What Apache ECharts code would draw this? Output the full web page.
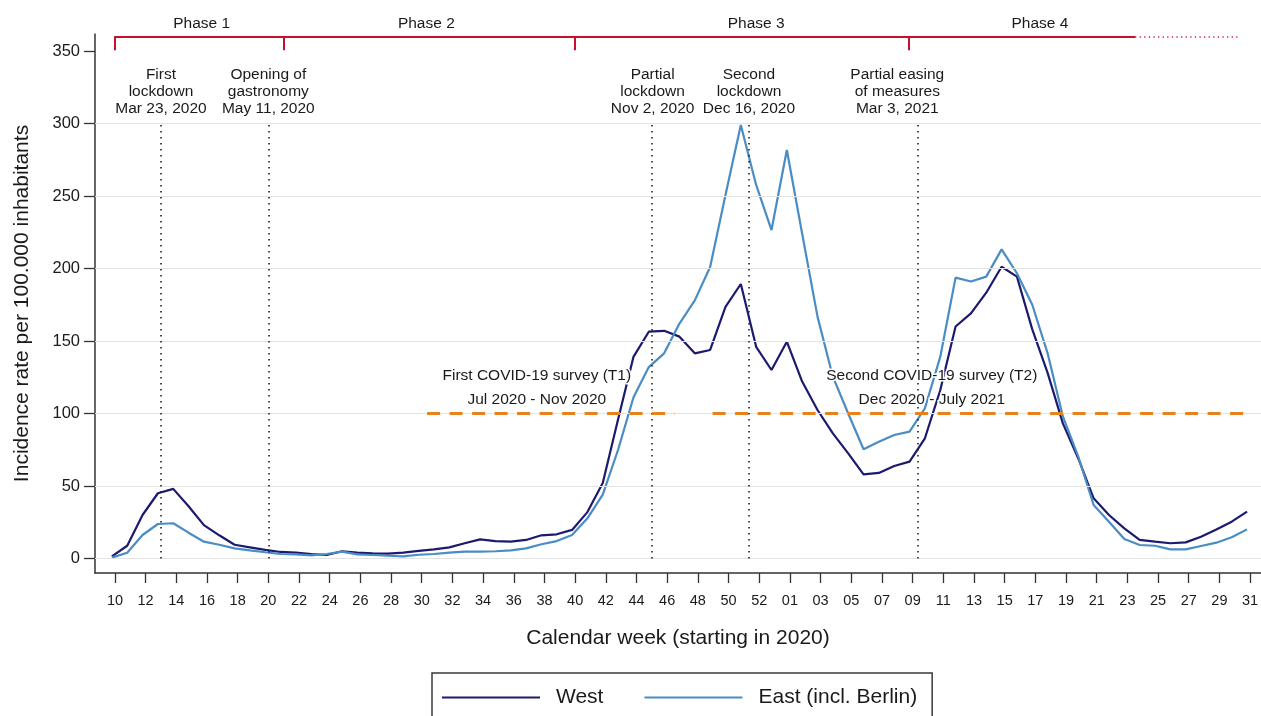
<!DOCTYPE html>
<html>
<head>
<meta charset="utf-8">
<script src="https://cdn.jsdelivr.net/npm/echarts@6/dist/echarts.min.js"></script>
<style>
html,body{margin:0;padding:0;background:#ffffff;}
#chart{width:1261px;height:716px;}
</style>
</head>
<body>
<div id="chart"></div>
<script>
// ---------- DATA ----------
// Calendar weeks: 2020 week 10 .. 53, then 2021 week 01 .. 31
const WEEK_LABELS = [
  '10','11','12','13','14','15','16','17','18','19','20','21','22','23','24','25','26','27','28','29',
  '30','31','32','33','34','35','36','37','38','39','40','41','42','43','44','45','46','47','48','49',
  '50','51','52','53',
  '01','02','03','04','05','06','07','08','09','10','11','12','13','14','15','16','17','18','19','20',
  '21','22','23','24','25','26','27','28','29','30','31'
];
// Incidence rate per 100.000 inhabitants
const WEST = [
  1.5, 8.8, 30, 45, 48, 36, 23, 16, 9.5, 7.7,
  5.9, 4.5, 4.0, 3.1, 2.4, 5.0, 4.0, 3.6, 3.3, 4.0,
  5.2, 6.3, 7.7, 10.5, 13.2, 12, 11.6, 12.8, 16, 16.7,
  19.7, 32, 52, 96, 139, 156.4, 157, 153, 141.5, 143.8,
  173.6, 189.3, 146, 130, 149.5, 122, 102.4, 86.3, 72.5, 58,
  59, 63.8, 66.8, 82.9, 116, 160, 169, 183.3, 201.2, 194.4,
  158, 128, 93, 69, 41.5, 30, 20.8, 12.8, 11.6, 10.5,
  11.1, 15, 20, 25.4, 32.3
];
const EAST = [
  0.6, 4, 16.2, 23.8, 24.3, 17.8, 11.6, 9.5, 7, 5.6,
  4.3, 3.1, 2.9, 2.2, 3.1, 4.7, 2.9, 2.4, 1.9, 1.5,
  2.6, 3.1, 4, 4.7, 4.7, 5, 5.6, 7, 9.8, 12,
  16.2, 27.7, 44, 75, 111, 132, 141.5, 162, 178, 201,
  250.7, 298.9, 257.6, 226.5, 281.7, 224, 166.8, 125.4, 100, 75.3,
  80.5, 85.2, 87.5, 103.6, 139, 193.7, 191, 194.4, 213.2, 196.7,
  175, 141.5, 97.8, 70.2, 36.9, 25.4, 13.4, 9.3, 8.8, 6.3,
  6.3, 8.6, 10.9, 14.6, 20.1
];
const SERIES_NAMES = ['West', 'East (incl. Berlin)'];
const X_TICKS = WEEK_LABELS.map((_, i) => i).filter(i => i % 2 === 0);
const Y_TICKS = [0, 50, 100, 150, 200, 250, 300, 350];
const Y_GRID = [0, 50, 100, 150, 200, 250, 300];

// Events (position in week-index units, week 10/2020 = 0)
const EVENT_POS = [3, 10, 35, 41.33, 52.33];
const EVENT_LABEL_POS = [3, 10, 35.05, 41.33, 51];
const EVENT_TEXT = [
  'First\nlockdown\nMar 23, 2020',
  'Opening of\ngastronomy\nMay 11, 2020',
  'Partial\nlockdown\nNov 2, 2020',
  'Second\nlockdown\nDec 16, 2020',
  'Partial easing\nof measures\nMar 3, 2021'
];
// Phases
const PHASE_BOUNDS = [0, 11, 30, 51.75];
const PHASE_SOLID_END = 66.5;
const PHASE_DOTTED_END = 73.26;
const PHASE_TEXT = ['Phase 1', 'Phase 2', 'Phase 3', 'Phase 4'];
const PHASE_LABEL_POS = [5.65, 20.3, 41.8, 60.3];
// Surveys
const SURVEY_RANGES = [[20.35, 36.5], [38.96, 73.55]];
const SURVEY_LEVEL = 100;
const SURVEY_TITLE = ['First COVID-19 survey (T1)', 'Second COVID-19 survey (T2)'];
const SURVEY_PERIOD = ['Jul 2020 - Nov 2020', 'Dec 2020 - July 2021'];
const SURVEY_LABEL_POS = [27.5, 53.25];

// ---------- STYLE ----------
const FONT = '"Liberation Sans", Arial, Helvetica, sans-serif';
const TXT = '#1a1a1a';
const AXIS = '#333333';
const C_WEST = '#1b1a6e';
const C_EAST = '#4a8cc4';
const C_RED = '#c8102e';
const C_ORANGE = '#e8821e';
const POINT_SHIFT = -0.2;

const chart = echarts.init(document.getElementById('chart'), null, {renderer: 'canvas'});

const gridLines = Y_GRID.map(v => ({yAxis: v, lineStyle: {color: '#e3e3e3', width: 1.2, type: 'solid'}}));

const eventLines = EVENT_POS.map(x => [
  {coord: [x, 0], lineStyle: {color: '#222', width: 1.6, type: [1.4, 4.6]}},
  {coord: [x, 299]}
]);
const surveyLines = SURVEY_RANGES.map(r => [
  {coord: [r[0], SURVEY_LEVEL], lineStyle: {color: C_ORANGE, width: 3, type: [13, 9.5]}},
  {coord: [r[1], SURVEY_LEVEL]}
]);
const phaseLines = [
  [{coord: [PHASE_BOUNDS[0], 359.5], lineStyle: {color: C_RED, width: 2, type: 'solid'}}, {coord: [PHASE_SOLID_END, 359.5]}],
  [{coord: [PHASE_SOLID_END, 359.5], lineStyle: {color: C_RED, width: 1.5, type: [1.2, 3.4]}}, {coord: [PHASE_DOTTED_END, 359.5]}]
].concat(PHASE_BOUNDS.map(x => [
  {coord: [x, 350.5], lineStyle: {color: C_RED, width: 2, type: 'solid'}},
  {coord: [x, 360.2]}
]));

const option = {
  animation: false,
  backgroundColor: '#ffffff',
  textStyle: {fontFamily: FONT, color: TXT},
  grid: {left: 95, right: 0, top: 34, bottom: 143, containLabel: false, outerBoundsMode: 'none'},
  legend: {
    data: SERIES_NAMES.map(n => ({name: n, icon: 'rect'})),
    left: 432, top: 673,
    orient: 'horizontal',
    itemWidth: 98, itemHeight: 2.2, itemGap: 41,
    padding: [14, 15, 40, 10],
    borderColor: '#3a3a3a', borderWidth: 1.5,
    backgroundColor: '#ffffff',
    textStyle: {fontSize: 21, color: TXT, fontFamily: FONT, padding: [0, 0, 0, 11]},
    selectedMode: false
  },
  xAxis: {
    type: 'value', min: -1.3, max: 74.71,
    name: 'Calendar week (starting in 2020)',
    nameLocation: 'middle', nameGap: 55,
    nameTextStyle: {fontSize: 21, color: TXT, fontFamily: FONT},
    axisLine: {show: true, onZero: false, lineStyle: {color: AXIS, width: 1.5}},
    axisTick: {show: true, length: 10, customValues: X_TICKS, lineStyle: {color: AXIS, width: 1.3}},
    axisLabel: {customValues: X_TICKS, formatter: v => WEEK_LABELS[Math.round(v)] || '', margin: 20, fontSize: 14.5, color: TXT, fontFamily: FONT},
    splitLine: {show: false}
  },
  yAxis: {
    type: 'value', min: -10, max: 361.7,
    name: 'Incidence rate per 100.000 inhabitants',
    nameLocation: 'middle', nameGap: 62,
    nameTextStyle: {fontSize: 21, color: TXT, fontFamily: FONT},
    axisLine: {show: true, onZero: false, lineStyle: {color: AXIS, width: 1.5}},
    axisTick: {show: true, length: 11, customValues: Y_TICKS, lineStyle: {color: AXIS, width: 1.3}},
    axisLabel: {customValues: Y_TICKS, margin: 15, fontSize: 16.5, color: TXT, fontFamily: FONT},
    splitLine: {show: false}
  },
  series: [
    {
      name: '_grid', type: 'line', data: [], z: 1, silent: true,
      markLine: {silent: true, symbol: ['none', 'none'], label: {show: false}, animation: false, data: gridLines}
    },
    {
      name: '_annot', type: 'line', data: [], z: 2, silent: true,
      markLine: {silent: true, symbol: ['none', 'none'], label: {show: false}, animation: false,
        data: eventLines.concat(surveyLines, phaseLines)}
    },
    {
      name: SERIES_NAMES[0], type: 'line', z: 3,
      data: WEST.map((v, i) => [i + POINT_SHIFT, v]),
      showSymbol: false, symbol: 'none',
      lineStyle: {color: C_WEST, width: 2.2}, itemStyle: {color: C_WEST}
    },
    {
      name: SERIES_NAMES[1], type: 'line', z: 4,
      data: EAST.map((v, i) => [i + POINT_SHIFT, v]),
      showSymbol: false, symbol: 'none',
      lineStyle: {color: C_EAST, width: 2.2}, itemStyle: {color: C_EAST}
    }
  ]
};
chart.setOption(option);

// ---------- annotation texts placed through the axes ----------
const px = (x, y) => chart.convertToPixel({gridIndex: 0}, [x, y]);
const textEl = (x, y, text, extra) => {
  const p = px(x, y);
  return {
    type: 'text', x: p[0], y: p[1], z: 100, silent: true,
    style: Object.assign({
      text: text, fill: TXT, font: '15.5px ' + FONT,
      align: 'center', verticalAlign: 'middle', lineHeight: 17
    }, extra || {})
  };
};
const graphics = [];
PHASE_TEXT.forEach((t, i) => graphics.push(textEl(PHASE_LABEL_POS[i], 369, t)));
EVENT_TEXT.forEach((t, i) => graphics.push(textEl(EVENT_LABEL_POS[i], 321.6, t)));
SURVEY_TITLE.forEach((t, i) => {
  graphics.push(textEl(SURVEY_LABEL_POS[i], 125.9, t, {stroke: '#ffffff', lineWidth: 3}));
  graphics.push(textEl(SURVEY_LABEL_POS[i], 109.7, SURVEY_PERIOD[i], {stroke: '#ffffff', lineWidth: 3}));
});
chart.setOption({graphic: graphics});
</script>
</body>
</html>
